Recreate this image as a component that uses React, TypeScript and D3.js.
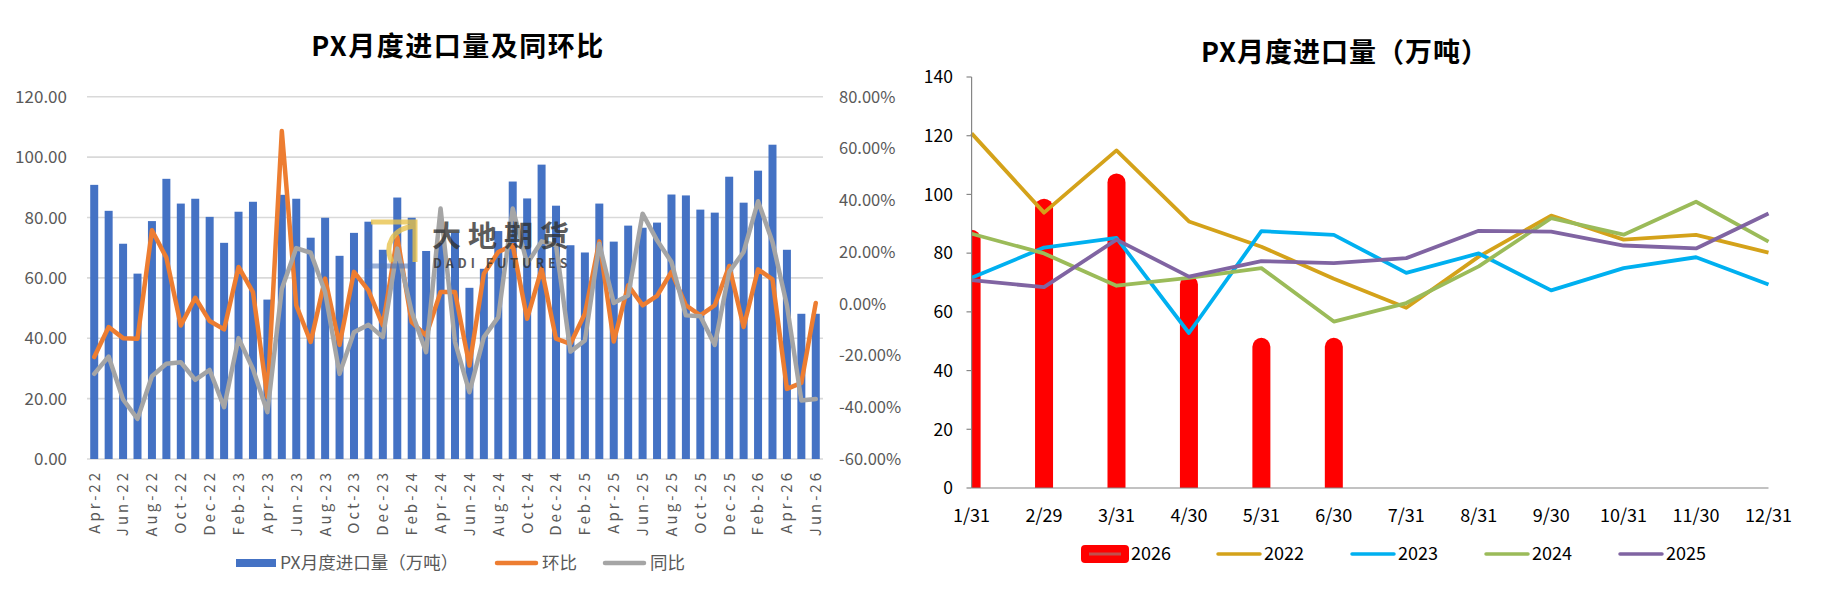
import * as React from "react";
import { scaleBand, scaleLinear, scalePoint, line } from "d3";

// PX monthly imports (万吨), by calendar year
const imp2022 = [120.8, 93.8, 115.0, 90.8, 82.2, 71.3, 61.4, 78.8, 92.8, 84.6, 86.2, 80.2];
const imp2023 = [71.6, 81.9, 85.2, 52.8, 87.5, 86.2, 73.3, 79.9, 67.3, 74.9, 78.6, 69.3];
const imp2024 = [86.6, 79.9, 68.9, 71.6, 74.9, 56.7, 63.0, 75.5, 91.9, 86.3, 97.5, 83.9];
const imp2025 = [70.8, 68.4, 84.6, 72.0, 77.3, 76.6, 78.3, 87.6, 87.3, 82.6, 81.6, 93.5];
const imp2026 = [84.9, 95.5, 104.1, 69.3, 48.1, 48.1];

// 环比 / 同比 (%), Apr-22 .. Jun-26
const mom = [-20.6, -9.0, -13.3, -13.5, 28.4, 17.8, -8.4, 2.3, -6.7, -9.9, 14.2, 4.5, -36.0,
  66.7, -0.6, -14.8, 9.7, -15.9, 12.3, 5.2, -8.4, 25.8, -7.1, -12.3, 4.5, 4.5,
  -23.9, 11.6, 20.0, 22.6, -5.8, 13.5, -13.5, -15.5, -3.9, 24.1, -14.6, 7.1, -0.6,
  3.0, 12.3, -0.6, -4.5, -0.6, 14.6, -9.0, 13.3, 9.4, -32.9, -30.6, 0.3];
const yoy = [-27.1, -20.4, -37.0, -44.5, -28.0, -23.2, -22.6, -29.4, -25.6, -40.0, -13.3, -25.2, -41.9,
  5.8, 21.5, 19.7, 4.5, -27.1, -11.0, -8.1, -12.9, 21.3, -3.2, -18.7, 36.8, -14.8,
  -34.2, -12.9, -5.2, 36.8, 15.5, 24.1, 22.6, -18.5, -14.2, 23.2, 0.3, 3.2, 34.8,
  24.5, 16.1, -4.5, -4.8, -15.9, 12.3, 20.0, 39.6, 23.9, -0.6, -37.4, -36.8];

const monthAbbr = ["Jan", "Feb", "Mar", "Apr", "May", "Jun", "Jul", "Aug", "Sep", "Oct", "Nov", "Dec"];
const dayLabels = ["1/31", "2/29", "3/31", "4/30", "5/31", "6/30", "7/31", "8/31", "9/30", "10/31", "11/30", "12/31"];
const leftTicks = [0, 20, 40, 60, 80, 100, 120];
const pctTicks = [-60, -40, -20, 0, 20, 40, 60, 80];
const rightTicks = [0, 20, 40, 60, 80, 100, 120, 140];

const yearSeries = [
  { name: "2022", values: imp2022, color: "#D4A21A" },
  { name: "2023", values: imp2023, color: "#00B0F0" },
  { name: "2024", values: imp2024, color: "#9BBB59" },
  { name: "2025", values: imp2025, color: "#8064A2" },
];

// left chart categories Apr-22 .. Jun-26
const cats: string[] = [];
[["22", imp2022], ["23", imp2023], ["24", imp2024], ["25", imp2025], ["26", imp2026]].forEach(([yy, arr]: any) => {
  (arr as number[]).forEach((_, m) => {
    if (yy === "22" && m < 3) return;
    cats.push(monthAbbr[m] + "-" + yy);
  });
});
const bars = [...imp2022.slice(3), ...imp2023, ...imp2024, ...imp2025, ...imp2026];

const font = "'Noto Sans CJK SC', 'Noto Sans', sans-serif";

const App: React.FC = () => {
  // left chart
  const x = scaleBand<string>().domain(cats).range([87, 823]).paddingInner(0.446).paddingOuter(0.223);
  const yL = scaleLinear().domain([0, 120]).range([459, 96.7]);
  const yP = scaleLinear().domain([-60, 80]).range([459, 96.7]);
  const cx = (c: string) => (x(c) as number) + x.bandwidth() / 2;
  const pctLine = line<number>().x((_, i) => cx(cats[i])).y(d => yP(d));

  // right chart
  const xR = scalePoint<string>().domain(dayLabels).range([971.6, 1768.5]);
  const yR = scaleLinear().domain([0, 140]).range([488, 77]);
  const yearLine = line<number>().x((_, i) => xR(dayLabels[i]) as number).y(d => yR(d));

  return (
    <svg width={1830} height={591} style={{ position: "absolute", left: 0, top: 0, display: "block", background: "#fff" }} fontFamily={font}>
      <defs>
        <clipPath id="plotR">
          <rect x={971.6} y={60} width={800} height={428} />
        </clipPath>
      </defs>

      {/* ---------- left chart ---------- */}
      <text x={458} y={56} textAnchor="middle" fontSize={27} fontWeight="bold" letterSpacing={1.5} fill="#000">PX月度进口量及同环比</text>

      {leftTicks.map(t => (
        <g key={"gl" + t}>
          <line x1={87} x2={823} y1={yL(t)} y2={yL(t)} stroke="#D9D9D9" strokeWidth={1.6} />
          <text x={67} y={yL(t)} dy="0.36em" textAnchor="end" fontSize={17} fill="#595959">{t.toFixed(2)}</text>
        </g>
      ))}
      {pctTicks.map(t => (
        <text key={"pt" + t} x={839} y={yP(t)} dy="0.36em" fontSize={16.5} fill="#595959">{t.toFixed(2)}%</text>
      ))}

      {bars.map((v, i) => (
        <rect key={"b" + i} x={x(cats[i])} y={yL(v)} width={x.bandwidth()} height={yL(0) - yL(v)} fill="#4472C4" />
      ))}

      <path d={pctLine(mom) as string} fill="none" stroke="#ED7D31" strokeWidth={4.5} strokeLinejoin="round" strokeLinecap="round" />
      <path d={pctLine(yoy) as string} fill="none" stroke="#A5A5A5" strokeWidth={4.5} strokeLinejoin="round" strokeLinecap="round" />

      {cats.map((c, i) => i % 2 === 0 ? (
        <text key={"xl" + c} transform={`translate(${cx(c)},470) rotate(-90)`} dy="0.36em" textAnchor="end" fontSize={15} letterSpacing={3} fill="#595959">{c}</text>
      ) : null)}

      {/* watermark */}
      <g opacity={0.78}>
        <path d="M371,222 H415 V262" fill="none" stroke="#E8C24A" strokeWidth={5} />
        <path d="M415,226 C392,228 384,246 392,262" fill="none" stroke="#E8C24A" strokeWidth={5} />
        <path d="M368,232 V266 H412" fill="none" stroke="#4A72B8" strokeWidth={5} opacity={0.7} />
        <text x={432} y={247} fontSize={29} fontWeight="bold" letterSpacing={7} fill="#2f2f2f">大地期货</text>
        <text x={433} y={268} fontSize={12.5} fontWeight="bold" letterSpacing={4} fill="#2f2f2f">DADI FUTURES</text>
      </g>

      {/* left legend */}
      <rect x={236} y={559} width={40} height={8} fill="#4472C4" />
      <text x={280} y={563} dy="0.36em" fontSize={17.5} fill="#595959">PX月度进口量（万吨）</text>
      <line x1={497} x2={536} y1={563} y2={563} stroke="#ED7D31" strokeWidth={4.5} strokeLinecap="round" />
      <text x={542} y={563} dy="0.36em" fontSize={17.5} fill="#595959">环比</text>
      <line x1={605} x2={644} y1={563} y2={563} stroke="#A5A5A5" strokeWidth={4.5} strokeLinecap="round" />
      <text x={650} y={563} dy="0.36em" fontSize={17.5} fill="#595959">同比</text>

      {/* ---------- right chart ---------- */}
      <text x={1345} y={62} textAnchor="middle" fontSize={27} fontWeight="bold" letterSpacing={1} fill="#000">PX月度进口量（万吨）</text>

      <g clipPath="url(#plotR)">
        {imp2026.map((v, i) => (
          <line key={"r" + i} x1={xR(dayLabels[i])} x2={xR(dayLabels[i])} y1={yR(v)} y2={yR(0) + 12}
            stroke="#FF0000" strokeWidth={18} strokeLinecap="round" />
        ))}
      </g>

      {yearSeries.map(s => (
        <path key={s.name} d={yearLine(s.values) as string} fill="none" stroke={s.color} strokeWidth={3.8} strokeLinejoin="round" />
      ))}

      <line x1={971.6} x2={971.6} y1={77} y2={488} stroke="#868686" strokeWidth={1.2} />
      <line x1={971.6} x2={1768.5} y1={488} y2={488} stroke="#868686" strokeWidth={1.2} />
      {rightTicks.map(t => (
        <g key={"rt" + t}>
          <line x1={966.5} x2={971.6} y1={yR(t)} y2={yR(t)} stroke="#868686" strokeWidth={1.2} />
          <text x={953} y={yR(t)} dy="0.36em" textAnchor="end" fontSize={17.5} fill="#000">{t}</text>
        </g>
      ))}
      {dayLabels.map(d => (
        <text key={"dl" + d} x={xR(d)} y={522} textAnchor="middle" fontSize={18} fill="#000">{d}</text>
      ))}

      {/* right legend */}
      <rect x={1081} y={545} width={48} height={18} rx={4} fill="#FF0000" />
      <line x1={1089} x2={1121} y1={554} y2={554} stroke="#C0504D" strokeWidth={3} />
      <text x={1131} y={554} dy="0.36em" fontSize={18} fill="#000">2026</text>
      {yearSeries.map((s, i) => {
        const lx = [1218, 1352, 1486, 1620][i];
        return (
          <g key={"lg" + s.name}>
            <line x1={lx} x2={lx + 42} y1={554} y2={554} stroke={s.color} strokeWidth={3.5} strokeLinecap="round" />
            <text x={lx + 46} y={554} dy="0.36em" fontSize={18} fill="#000">{s.name}</text>
          </g>
        );
      })}
    </svg>
  );
};

export default App;
